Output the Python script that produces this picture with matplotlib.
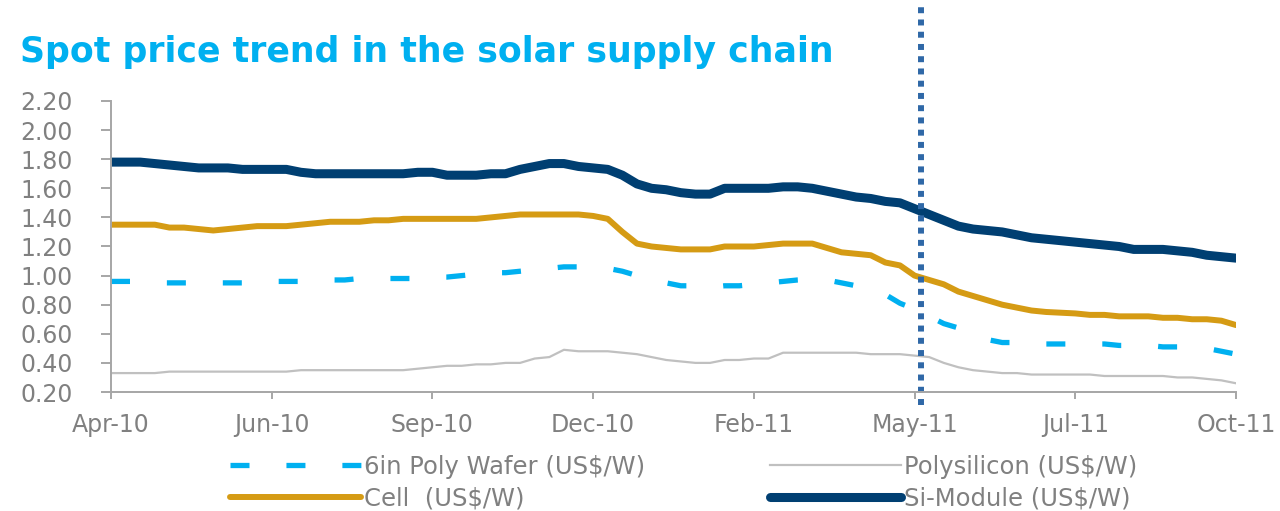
import numpy as np
import matplotlib.pyplot as plt
from matplotlib.transforms import blended_transform_factory

# weekly spot prices Apr-10 .. Oct-11 (US$/W)
wafer = [0.96, 0.96, 0.96, 0.95, 0.95, 0.95, 0.95, 0.95, 0.95, 0.95,
         0.96, 0.96, 0.96, 0.96, 0.97, 0.97, 0.97, 0.98, 0.98, 0.98,
         0.98, 0.98, 0.99, 0.99, 1.00, 1.01, 1.02, 1.02, 1.03, 1.04,
         1.05, 1.06, 1.06, 1.06, 1.05, 1.03, 1.00, 0.97, 0.95, 0.93,
         0.93, 0.92, 0.93, 0.93, 0.94, 0.95, 0.96, 0.97, 0.975, 0.97,
         0.95, 0.93, 0.91, 0.87, 0.81, 0.77, 0.72, 0.67, 0.64, 0.60,
         0.56, 0.54, 0.54, 0.54, 0.53, 0.53, 0.53, 0.53, 0.53, 0.52,
         0.52, 0.52, 0.51, 0.51, 0.51, 0.50, 0.48, 0.46]
poly = [0.33, 0.33, 0.33, 0.33, 0.34, 0.34, 0.34, 0.34, 0.34, 0.34,
        0.34, 0.34, 0.34, 0.35, 0.35, 0.35, 0.35, 0.35, 0.35, 0.35,
        0.35, 0.36, 0.37, 0.38, 0.38, 0.39, 0.39, 0.40, 0.40, 0.43,
        0.44, 0.49, 0.48, 0.48, 0.48, 0.47, 0.46, 0.44, 0.42, 0.41,
        0.40, 0.40, 0.42, 0.42, 0.43, 0.43, 0.47, 0.47, 0.47, 0.47,
        0.47, 0.47, 0.46, 0.46, 0.46, 0.45, 0.44, 0.40, 0.37, 0.35,
        0.34, 0.33, 0.33, 0.32, 0.32, 0.32, 0.32, 0.32, 0.31, 0.31,
        0.31, 0.31, 0.31, 0.30, 0.30, 0.29, 0.28, 0.26]
cell = [1.35, 1.35, 1.35, 1.35, 1.33, 1.33, 1.32, 1.31, 1.32, 1.33,
        1.34, 1.34, 1.34, 1.35, 1.36, 1.37, 1.37, 1.37, 1.38, 1.38,
        1.39, 1.39, 1.39, 1.39, 1.39, 1.39, 1.40, 1.41, 1.42, 1.42,
        1.42, 1.42, 1.42, 1.41, 1.39, 1.30, 1.22, 1.20, 1.19, 1.18,
        1.18, 1.18, 1.20, 1.20, 1.20, 1.21, 1.22, 1.22, 1.22, 1.19,
        1.16, 1.15, 1.14, 1.09, 1.07, 1.00, 0.97, 0.94, 0.89, 0.86,
        0.83, 0.80, 0.78, 0.76, 0.75, 0.745, 0.74, 0.73, 0.73, 0.72,
        0.72, 0.72, 0.71, 0.71, 0.70, 0.70, 0.69, 0.66]
module = [1.78, 1.78, 1.78, 1.77, 1.76, 1.75, 1.74, 1.74, 1.74, 1.73,
          1.73, 1.73, 1.73, 1.71, 1.70, 1.70, 1.70, 1.70, 1.70, 1.70,
          1.70, 1.71, 1.71, 1.69, 1.69, 1.69, 1.70, 1.70, 1.73, 1.75,
          1.77, 1.77, 1.75, 1.74, 1.73, 1.69, 1.63, 1.60, 1.59, 1.57,
          1.56, 1.56, 1.60, 1.60, 1.60, 1.60, 1.61, 1.61, 1.60, 1.58,
          1.56, 1.54, 1.53, 1.51, 1.50, 1.46, 1.42, 1.38, 1.34, 1.32,
          1.31, 1.30, 1.28, 1.26, 1.25, 1.24, 1.23, 1.22, 1.21, 1.20,
          1.18, 1.18, 1.18, 1.17, 1.16, 1.14, 1.13, 1.12]

tick_labels = ['Apr-10', 'Jun-10', 'Sep-10', 'Dec-10', 'Feb-11', 'May-11', 'Jul-11', 'Oct-11']
tick_every = 11       # one label every 11 weeks
marker_week = 55.45   # dotted line just after May-11

weeks = np.arange(len(module))

plt.rcParams['font.family'] = ['DejaVu Sans']
grey_txt = '#808080'
axis_col = '#a6a6a6'

fig = plt.figure(figsize=(12.8, 5.11), dpi=100)
ax = fig.add_axes([111/1280, 1 - 392/511, 1125/1280, 291/511])

l_wafer, = ax.plot(weeks, wafer, color='#00b0f0', lw=3.8, linestyle=(0, (3.6, 7.0)),
                   dash_capstyle='butt', label='6in Poly Wafer (US$/W)')
l_cell, = ax.plot(weeks, cell, color='#d59b14', lw=4.3, solid_capstyle='round',
                  label='Cell  (US$/W)')
l_poly, = ax.plot(weeks, poly, color='#c0c0c0', lw=1.6, label='Polysilicon (US$/W)')
l_module, = ax.plot(weeks, module, color='#003f72', lw=6.5, solid_capstyle='round',
                    label='Si-Module (US$/W)')

# dotted marker line, runs above the plot up to the title
trans = blended_transform_factory(ax.transData, ax.transAxes)
ax.plot([marker_week, marker_week], [-0.045, 1.325], transform=trans, clip_on=False,
        color='#2f68a7', lw=4.3, linestyle=(0, (1, 1.05)), dash_capstyle='butt')

ax.set_xlim(0, weeks[-1])
ax.set_ylim(0.2, 2.2)
ax.set_yticks(np.arange(0.2, 2.21, 0.2))
ax.set_yticklabels([f'{v:.2f}' for v in np.arange(0.2, 2.21, 0.2)])
ax.set_xticks(weeks[::tick_every])
ax.set_xticklabels(tick_labels)

for s in ['top', 'right']:
    ax.spines[s].set_visible(False)
for s in ['left', 'bottom']:
    ax.spines[s].set_color(axis_col)
    ax.spines[s].set_linewidth(1.4)
ax.tick_params(axis='y', direction='out', length=7.5, width=1.4, color=axis_col,
               pad=20, labelsize=17, labelcolor=grey_txt)
ax.tick_params(axis='x', direction='out', length=5, width=1.4, color=axis_col,
               pad=10, labelsize=17, labelcolor=grey_txt)

fig.text(20/1280, 1 - 62/511, 'Spot price trend in the solar supply chain',
         color='#00b0f0', fontsize=25, fontweight='bold', va='baseline', ha='left')

leg = fig.legend(handles=[l_wafer, l_cell, l_poly, l_module], ncol=2,
                 loc='upper left', bbox_to_anchor=(230/1280, 1 - 455/511),
                 frameon=False, fontsize=17.5, handlelength=5.4, handletextpad=0.1,
                 columnspacing=5.15, labelspacing=0.3, borderpad=0, borderaxespad=0)
for t in leg.get_texts():
    t.set_color(grey_txt)

fig.savefig('out.png', dpi=100)
